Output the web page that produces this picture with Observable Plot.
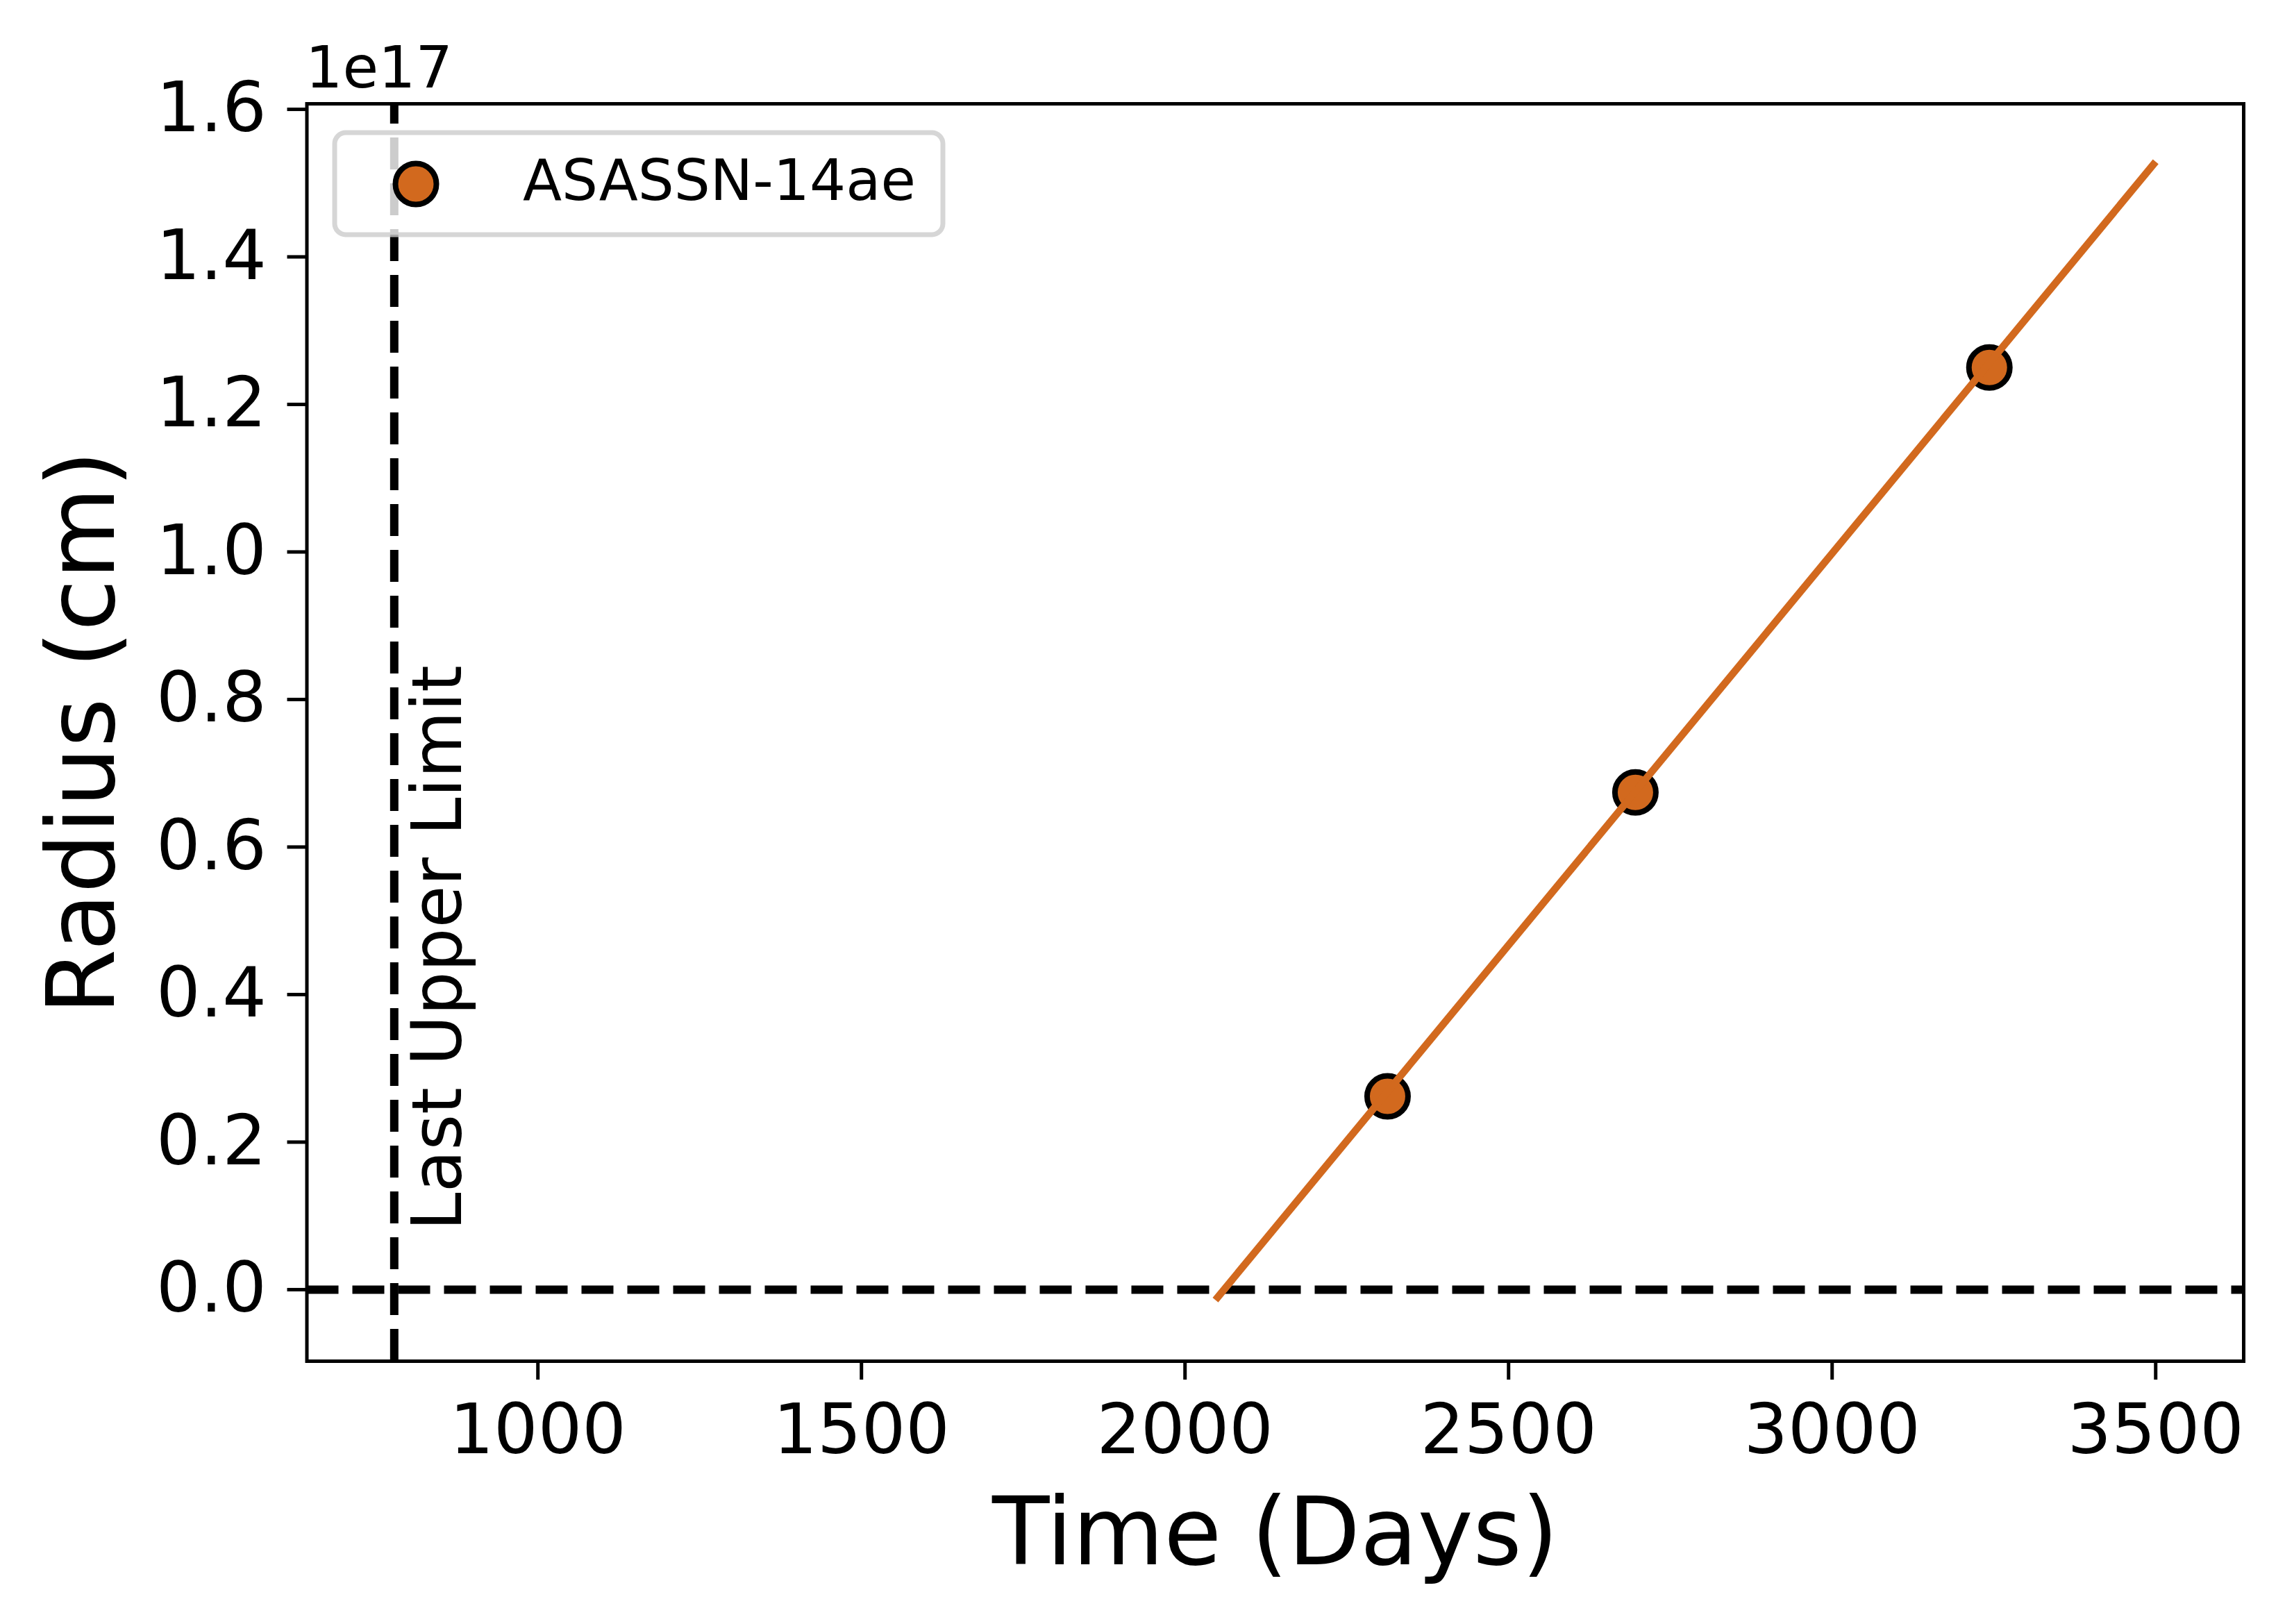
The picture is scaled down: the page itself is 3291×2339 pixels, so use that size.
<!DOCTYPE html>
<html>
<head>
<meta charset="utf-8">
<script src="https://cdn.jsdelivr.net/npm/d3@7"></script>
<script src="https://cdn.jsdelivr.net/npm/@observablehq/plot@0.6"></script>
<style>
  html, body { margin: 0; padding: 0; background: white; }
  svg { display: block; }
</style>
</head>
<body>
<div id="chart"></div>
<script>
// ---- data ----
const seriesNames = ["ASASSN-14ae"];
const obsDays = [2313, 2696, 3243];            // Time (Days)
const obsRadius = [2.62e16, 6.74e16, 1.25e17];   // Radius (cm)
const fitDays = [2047, 3500];
const fitRadius = [-1.4e15, 1.529e17];
const lastUpperLimitDay = 778;
const annotationText = ["Last Upper Limit"];
const annotationRadius = 0.08e17;
const xTicks = [1000, 1500, 2000, 2500, 3000, 3500];
const yTicks = [0, 2e16, 4e16, 6e16, 8e16, 1e17, 1.2e17, 1.4e17, 1.6e17];
const xDomain = [643, 3636];
const yDomain = [-0.97e16, 1.6075e17];
const xLabel = ["Time (Days)"];
const yLabel = ["Radius (cm)"];
const offsetLabel = ["1e17"];

const points = obsDays.map((d, i) => ({day: d, radius: obsRadius[i], name: seriesNames[0]}));
const fit = fitDays.map((d, i) => ({day: d, radius: fitRadius[i]}));

const ORANGE = "#d2691e";
const FONT = "DejaVu Sans";
const yFmt = d => (d / 1e17).toFixed(1);

function legendMark(index, scales, values, dims) {
  const g = d3.create("svg:g");
  const x0 = dims.marginLeft + 40.5, y0 = dims.marginTop + 42;
  g.append("rect")
    .attr("x", x0).attr("y", y0).attr("width", 876).attr("height", 147)
    .attr("rx", 16).attr("ry", 16)
    .style("fill", "#ffffff").style("fill-opacity", 0.8)
    .style("stroke", "#cccccc").style("stroke-opacity", 0.8).style("stroke-width", 7);
  seriesNames.forEach((name, i) => {
    g.append("circle")
      .attr("cx", x0 + 117).attr("cy", y0 + 74 + i * 100).attr("r", 29.5)
      .style("fill", ORANGE).style("stroke", "black").style("stroke-width", 8);
    g.append("text")
      .attr("x", x0 + 271).attr("y", y0 + 97 + i * 100)
      .attr("text-anchor", "start")
      .style("font-family", FONT).style("font-size", "82px").style("fill", "black")
      .text(name);
  });
  return g.node();
}

const chart = Plot.plot({
  width: 3291,
  height: 2339,
  marginLeft: 441.5,
  marginRight: 60,
  marginTop: 149,
  marginBottom: 379,
  style: {fontFamily: FONT, background: "white", color: "black", overflow: "visible"},
  x: {domain: xDomain},
  y: {domain: yDomain},
  marks: [
    Plot.ruleY([0], {stroke: "black", strokeWidth: 12, strokeDasharray: "46,20"}),
    Plot.ruleX([lastUpperLimitDay], {y1: yDomain[0], y2: yDomain[1], stroke: "black", strokeWidth: 12, strokeDasharray: "46,20"}),
    Plot.dot(points, {x: "day", y: "radius", r: 29.5, fill: ORANGE, stroke: "black", strokeWidth: 8}),
    Plot.line(fit, {x: "day", y: "radius", stroke: ORANGE, strokeWidth: 10.5, strokeLinecap: "butt"}),
    Plot.text(annotationText, {
      x: () => lastUpperLimitDay, y: () => annotationRadius, text: d => d,
      rotate: -90, textAnchor: "start", lineAnchor: "bottom", dx: 96,
      fontSize: 99, fill: "black"
    }),
    Plot.frame({stroke: "black", strokeWidth: 5}),
    Plot.axisX({ticks: xTicks, tickFormat: d => String(d), tickSize: 27, tickPadding: 34, strokeWidth: 5, fontSize: 100, label: null}),
    Plot.axisY({ticks: yTicks, tickFormat: yFmt, tickSize: 28, tickPadding: 30, strokeWidth: 5, fontSize: 100, label: null}),
    Plot.text(xLabel, {frameAnchor: "bottom", textAnchor: "middle", lineAnchor: "bottom", dy: 292, fontSize: 135, fill: "black"}),
    Plot.text(yLabel, {frameAnchor: "left", textAnchor: "middle", lineAnchor: "bottom", rotate: -90, dx: -278.5, fontSize: 136, fill: "black"}),
    Plot.text(offsetLabel, {frameAnchor: "top-left", textAnchor: "start", lineAnchor: "bottom", dx: -2, dy: -24, fontSize: 84, fill: "black"}),
    legendMark
  ]
});
document.getElementById("chart").appendChild(chart);
</script>
</body>
</html>
